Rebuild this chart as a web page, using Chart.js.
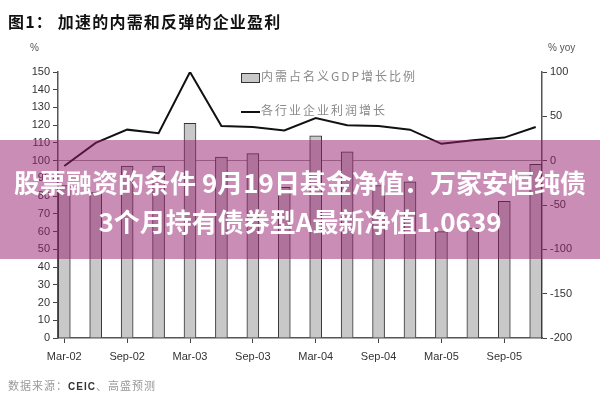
<!DOCTYPE html>
<html>
<head>
<meta charset="utf-8">
<script src="https://cdn.jsdelivr.net/npm/chart.js@4.4.1/dist/chart.umd.min.js"></script>
<style>
  body { margin: 0; background: #fff; font-family: "Noto Sans CJK SC", "Noto Sans", sans-serif; }
  .wrap { position: relative; width: 600px; height: 400px; overflow: hidden; }
  .title { position: absolute; left: 8px; top: 9px; font-size: 16px; font-weight: bold; color: #111; letter-spacing: 1.2px; }
  .unit { position: absolute; top: 42px; font-size: 10px; color: #555; font-family: "Liberation Sans", Arial, sans-serif; }
  .legend { position: absolute; left: 241px; font-size: 12px; color: #8a8a8a; letter-spacing: 2px; }
  .legend .box { display: inline-block; width: 17px; height: 8px; background: #c8c8c8; border: 1px solid #333; vertical-align: middle; margin-right: 1px; }
  .legend .ln { display: inline-block; width: 19px; height: 0; border-top: 2px solid #111; vertical-align: middle; margin-right: 1px; }
  .source { position: absolute; left: 8px; top: 377px; font-size: 11px; color: #999; letter-spacing: 1px; }
  .source b { color: #333; font-family: "Liberation Sans", Arial, sans-serif; font-size: 10px; }
  .band { position: absolute; left: 0; top: 140px; width: 600px; height: 119px; background: rgba(150, 30, 110, 0.5); }
  .band div { position: absolute; left: 0; width: 600px; text-align: center; color: #fff; font-weight: bold; font-size: 26px; white-space: nowrap; }
</style>
</head>
<body>
<div class="wrap">
  <canvas id="graph_1"></canvas>
  <div class="title">图1： 加速的内需和反弹的企业盈利</div>
  <div class="unit" style="left:30px">%</div>
  <div class="unit" style="left:548px">% yoy</div>
  <div class="legend" style="top:67px"><span class="box"></span>内需占名义GDP增长比例</div>
  <div class="legend" style="top:101px"><span class="ln"></span>各行业企业利润增长</div>
  <div class="source">数据来源：<b>CEIC</b>、高盛预测</div>
  <div class="band">
    <div style="top:23px">股票融资的条件 9月19日基金净值：万家安恒纯债</div>
    <div style="top:62px">3个月持有债券型A最新净值1.0639</div>
  </div>
</div>
<script>
const quarters = ["Mar-02", "Jun-02", "Sep-02", "Dec-02", "Mar-03", "Jun-03", "Sep-03", "Dec-03",
  "Mar-04", "Jun-04", "Sep-04", "Dec-04", "Mar-05", "Jun-05", "Sep-05", "Dec-05"];
const domesticShare = [86, 82, 97, 97, 121, 102, 104, 85, 114, 105, 86, 88, 60, 62, 77, 98];
const profitGrowth = [-6, 20, 35, 31, 100, 39, 38, 34, 48, 40, 39, 35, 19, 23, 26, 38];
const labelIdx = [0, 2, 4, 6, 8, 10, 12, 14];

const ctx = document.getElementById("graph_1");

new Chart(ctx, {
  type: "bar",
  data: {
    datasets: [
      {
        label: "各行业企业利润增长",
        type: "line",
        data: profitGrowth.map((v, i) => ({ x: i, y: v })),
        yAxisID: "y1",
        borderColor: "#111",
        borderWidth: 2,
        pointRadius: 0,
        tension: 0,
      },
      {
        label: "内需占名义GDP增长比例",
        data: domesticShare.map((v, i) => ({ x: i, y: v })),
        yAxisID: "y",
        backgroundColor: "#c8c8c8",
        borderColor: "#333",
        borderWidth: 1,
        barThickness: 12,
      },
    ],
  },
  options: {
    responsive: true,
    maintainAspectRatio: false,
    animation: false,
    layout: {
      padding: { top: 72 },
    },
    plugins: {
      legend: { display: false },
      tooltip: { enabled: false },
    },
    scales: {
      x: {
        type: "linear",
        offset: false,
        min: -0.2,
        max: 15.2,
        afterBuildTicks: (s) => {
          s.ticks = labelIdx.map((v) => ({ value: v }));
        },
        afterFit: (s) => {
          s.height = 62;
        },
        grid: {
          offset: false,
          drawOnChartArea: false,
          tickLength: 5,
          color: "#444",
        },
        border: { color: "#555", width: 1.5 },
        ticks: {
          autoSkip: false,
          maxRotation: 0,
          padding: 7,
          color: "#333",
          font: { size: 11, family: "Liberation Sans" },
          callback: (v) => quarters[v],
        },
      },
      y: {
        position: "left",
        min: 0,
        max: 150,
        afterFit: (s) => {
          s.width = 58;
        },
        grid: {
          drawOnChartArea: false,
          tickLength: 5,
          color: "#444",
        },
        border: { color: "#555", width: 1.5 },
        ticks: {
          stepSize: 10,
          padding: 3,
          color: "#333",
          font: { size: 11, family: "Liberation Sans" },
        },
      },
      y1: {
        position: "right",
        min: -200,
        max: 100,
        afterFit: (s) => {
          s.width = 58;
        },
        grid: {
          drawOnChartArea: true,
          color: (c) => (c.tick && c.tick.value === 0 ? "#999" : "transparent"),
          tickColor: "#444",
          tickLength: 5,
        },
        border: { color: "#555", width: 1.5 },
        ticks: {
          stepSize: 50,
          padding: 3,
          color: "#333",
          font: { size: 11, family: "Liberation Sans" },
        },
      },
    },
  },
});
</script>
</body>
</html>
